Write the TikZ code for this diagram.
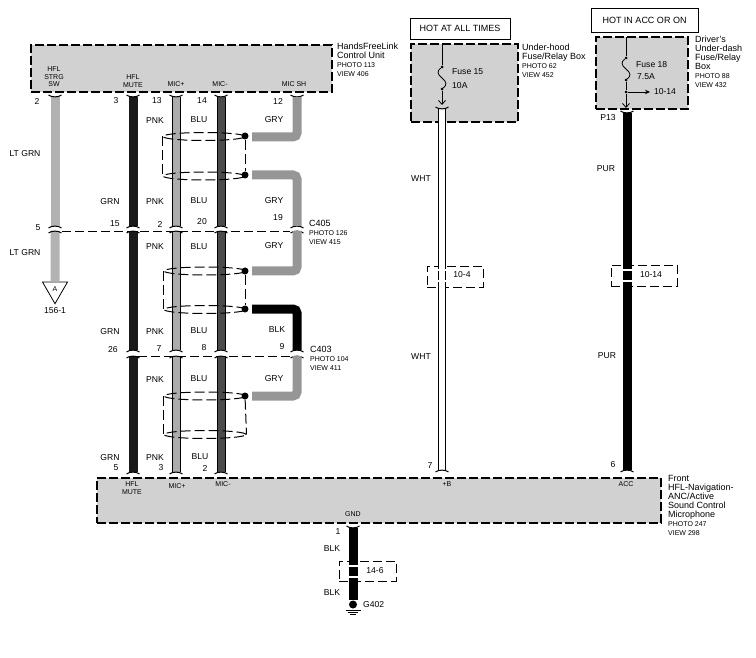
\documentclass[tikz,border=0pt]{standalone}
\usepackage{fontspec}
\setmainfont{Liberation Sans}
\usetikzlibrary{shapes.geometric, arrows.meta, positioning}
\definecolor{panelgray}{RGB}{209,209,209}
\definecolor{wiregrn}{RGB}{178,178,178}
\definecolor{wirepink}{RGB}{172,172,172}
\definecolor{wireblue}{RGB}{75,75,75}
\definecolor{wiregry}{RGB}{150,150,150}
\newcommand{\pv}{\fontsize{7}{7.6}\selectfont}
\begin{document}
\begin{tikzpicture}[
        x=1pt, y=-1pt,
        unitbox/.style={rectangle, draw=black, fill=panelgray, line width=1.1pt, dash pattern=on 9pt off 3pt, inner sep=0pt},
        hotbox/.style={rectangle, draw=black, fill=white, line width=0.9pt, inner sep=0pt, font=\fontsize{9}{9}\selectfont},
        pagebox/.style={rectangle, draw=black, line width=0.7pt, dash pattern=on 9pt off 4pt, inner sep=0pt},
        unitname/.style={anchor=north west, align=left, inner sep=0pt, font=\fontsize{9}{9}\selectfont},
        pinname/.style={align=center, inner sep=0pt, font=\fontsize{7}{7.5}\selectfont},
        wirelabel/.style={inner sep=0pt, font=\fontsize{8.6}{9}\selectfont},
        wireplain/.style={line width=9pt},
        wiredouble/.style={draw=black, line width=1pt},
        wiremute/.style={draw=black!90, line width=9pt},
        wirepnk/.style={wiredouble, double=wirepink, double distance=7pt},
        wireblu/.style={wiredouble, double=wireblue, double distance=7pt},
        wirewht/.style={wiredouble, double=white, double distance=6.5pt},
        wiregray/.style={wireplain, draw=wiregry, rounded corners=4pt},
        wireblack/.style={wireplain, draw=black, rounded corners=4pt},
        shieldring/.style={ellipse, draw=black, line width=1pt, dash pattern=on 10pt off 4pt, inner sep=0pt, minimum width=82pt, minimum height=8pt},
        shieldside/.style={draw=black, line width=1pt, dash pattern=on 10pt off 4pt},
        harness/.style={draw=black, line width=0.7pt, dash pattern=on 9pt off 4pt},
        wiredot/.style={circle, fill=black, inner sep=0pt, minimum size=7pt},
        smalldot/.style={circle, fill=black, inner sep=0pt, minimum size=3pt},
        thinline/.style={draw=black, line width=0.8pt},
        stripe/.style={draw=white, line width=2pt},
        pics/capup/.style={code={\draw[thinline, line width=1pt] (-6.5,-2) .. controls (-4,0.5) and (4,0.5) .. (6.5,-2);}},
        pics/capdown/.style={code={\draw[thinline, line width=1pt] (-6.5,2) .. controls (-4,-0.5) and (4,-0.5) .. (6.5,2);}}
    ]
    \useasboundingbox (0,0) rectangle (756,658);

    \node[unitbox, minimum width=301pt, minimum height=47pt] (hflunit) at (181.5,68.5) {};
    \node[unitbox, minimum width=107pt, minimum height=78pt] (underhood) at (464.5,83) {};
    \node[unitbox, minimum width=92pt, minimum height=72pt] (underdash) at (642,73) {};
    \node[unitbox, minimum width=564pt, minimum height=45pt] (frontunit) at (379,500.5) {};
    \node[hotbox, minimum width=100pt, minimum height=21pt] (hotall) at (460,28.5) {HOT AT ALL TIMES};
    \node[hotbox, minimum width=107pt, minimum height=24pt] (hotacc) at (644.5,20) {HOT IN ACC OR ON};

    \node[unitname] (hflname) at (337,43) {HandsFreeLink\\Control Unit\\\pv PHOTO 113\\\pv VIEW 406};
    \node[unitname] (hoodname) at (522,44) {Under-hood\\Fuse/Relay Box\\\pv PHOTO 62\\\pv VIEW 452};
    \node[unitname] (dashname) at (695,36) {Driver's\\Under-dash\\Fuse/Relay\\Box\\\pv PHOTO 88\\\pv VIEW 432};
    \node[unitname] (frontname) at (668,475) {Front\\HFL-Navigation-\\ANC/Active\\Sound Control\\Microphone\\\pv PHOTO 247\\\pv VIEW 298};

    \foreach \name/\cx in {strg/55, mute/133, micp/176, micm/221, shld/297} {
        \coordinate (\name-a) at (\cx,97);
        \coordinate (\name-b) at (\cx,226);
        \coordinate (\name-c) at (\cx,231);
        \coordinate (\name-d) at (\cx,350);
        \coordinate (\name-e) at (\cx,356);
        \coordinate (\name-f) at (\cx,472);
    }
    \coordinate (c405l) at (62,231);
    \coordinate (c405r) at (290,231);
    \coordinate (c403l) at (138,356.5);
    \coordinate (c403r) at (290,356.5);
    \draw[harness] (c405l) -- (c405r);
    \draw[harness] (c403l) -- (c403r);

    \node[draw=black, line width=0.8pt, regular polygon, regular polygon sides=3, shape border rotate=180, minimum size=29pt, inner sep=0pt, font=\fontsize{7}{7}\selectfont] (offpage) at (55,289.2) {A};
    \node[wirelabel, below=3pt of offpage] (offpagepage) {156-1};
    \draw[wireplain, draw=wiregrn] (strg-a) -- (strg-b);
    \draw[wireplain, draw=wiregrn] (strg-c) -- (offpage.north);

    \foreach \name/\sty in {mute/wiremute, micp/wirepnk, micm/wireblu} {
        \draw[\sty] (\name-a) -- (\name-b);
        \draw[\sty] (\name-c) -- (\name-d);
        \draw[\sty] (\name-e) -- (\name-f);
    }
    \foreach \name in {strg, mute, micp, micm, shld} {
        \pic at (\name-a) {capup};
        \pic at (\name-b) {capdown};
        \pic at (\name-c) {capdown};
    }
    \foreach \name in {mute, micp, micm, shld} {
        \pic at (\name-d) {capdown};
        \pic at (\name-e) {capdown};
    }
    \foreach \name in {mute, micp, micm} {
        \pic at (\name-f) {capdown};
    }

    \coordinate (sh1) at (252,137);
    \coordinate (sh2) at (252,175);
    \coordinate (sh3) at (252,271);
    \coordinate (sh4) at (252,309);
    \coordinate (sh5) at (252,396);
    \draw[wiregray] (shld-a) |- (sh1);
    \draw[wiregray] (sh2) -| (shld-b);
    \draw[wiregray] (shld-c) |- (sh3);
    \draw[wireblack] (sh4) -| (shld-d);
    \draw[wiregray] (shld-e) |- (sh5);

    \node[wiredot] (dot1) at (245,136) {};
    \node[wiredot] (dot2) at (245,175) {};
    \node[wiredot] (dot3) at (245,271) {};
    \node[wiredot] (dot4) at (245,309) {};
    \node[wiredot] (dot5) at (245,396) {};
    \node[shieldring] (ring1) at (204,136.5) {};
    \node[shieldring] (ring2) at (204,176) {};
    \node[shieldring] (ring3) at (205,271) {};
    \node[shieldring] (ring4) at (205,309.5) {};
    \node[shieldring] (ring5) at (205,396) {};
    \node[shieldring] (ring6) at (205,434.5) {};
    \draw[shieldside] (dot1) -- (dot2);
    \draw[shieldside] (dot3) -- (dot4);
    \draw[shieldside] (dot5) -- (ring6.east);
    \draw[shieldside] (ring1.west) -- (ring2.west);
    \draw[shieldside] (ring3.west) -- (ring4.west);
    \draw[shieldside] (ring5.west) -- (ring6.west);

    \node[pagebox, minimum width=56pt, minimum height=21pt] (page104) at (455,276.5) {};
    \node[pagebox, minimum width=66pt, minimum height=21pt] (page1014) at (644,275.5) {};
    \node[pagebox, minimum width=57pt, minimum height=20pt] (page146) at (367.5,571) {};

    \coordinate (wht-a) at (442,109);
    \coordinate (wht-b) at (442,470);
    \coordinate (pur-a) at (627,113);
    \coordinate (pur-b) at (627,470);
    \coordinate (gnd-a) at (353,528);
    \node[circle, fill=black, inner sep=0pt, minimum size=8pt] (g402) at (353,604.5) {};
    \draw[wirewht] (wht-a) -- (wht-b);
    \draw[wireblack] (pur-a) -- (pur-b);
    \draw[wireblack] (gnd-a) -- (g402);
    \pic at (wht-a) {capup};
    \pic at (wht-b) {capdown};
    \pic at (pur-a) {capup};
    \pic at (pur-b) {capdown};
    \pic at (gnd-a) {capup};
    \draw[stripe] (437,270.5) -- (447,270.5) (437,281) -- (447,281);
    \draw[stripe] (622,270.5) -- (632,270.5) (622,281) -- (632,281);
    \draw[stripe] (348,565.5) -- (358,565.5) (348,576.5) -- (358,576.5);

    \draw[thinline] (345.5,610) -- (360.5,610) (348,612) -- (358,612) (350,614) -- (356,614);

    \coordinate (f15top) at (442,44);
    \coordinate (f15mid) at (442,78);
    \coordinate (f15end) at (442,105);
    \node[smalldot] (f15a) at (442,67) {};
    \node[smalldot] (f15b) at (442,89) {};
    \draw[thinline] (f15top) -- (f15a);
    \draw[thinline] (f15a) .. controls +(-5,4) and +(-5,-4) .. (f15mid) .. controls +(5,4) and +(5,-4) .. (f15b);
    \draw[thinline, -{Straight Barb[length=4pt, width=7pt]}] (f15b) -- (f15end);

    \coordinate (f18top) at (626,37);
    \coordinate (f18mid) at (626,69);
    \coordinate (f18end) at (626,108);
    \coordinate (f18tap) at (650,92);
    \node[smalldot] (f18a) at (626,58) {};
    \node[smalldot] (f18b) at (626,80) {};
    \node[smalldot] (f18c) at (626,92) {};
    \draw[thinline] (f18top) -- (f18a);
    \draw[thinline] (f18a) .. controls +(-5,4) and +(-5,-4) .. (f18mid) .. controls +(5,4) and +(5,-4) .. (f18b);
    \draw[thinline] (f18b) -- (f18c);
    \draw[thinline, -{Straight Barb[length=4pt, width=7pt]}] (f18c) -- (f18end);
    \draw[thinline, -{Stealth[length=5pt, width=4.5pt]}] (f18c) -- (f18tap);

    \node[wirelabel, anchor=west] (fuse15) at (452,72) {Fuse 15};
    \node[wirelabel, anchor=west] (amp15) at (452,86) {10A};
    \node[wirelabel, anchor=west] (fuse18) at (636,65) {Fuse 18};
    \node[wirelabel, anchor=west] (amp18) at (637,77) {7.5A};
    \node[wirelabel] (tap1014) at (665,92) {10-14};
    \node[wirelabel] (txt104) at (462,275) {10-4};
    \node[wirelabel] (txt1014) at (651,275) {10-14};
    \node[wirelabel] (txt146) at (375,571) {14-6};
    \node[wirelabel, anchor=west] (g402txt) at (363,605) {G402};

    \node[pinname] (pstrg) at (54,77) {HFL\\STRG\\SW};
    \node[pinname] (pmute) at (133,81) {HFL\\MUTE};
    \node[pinname] (pmicp) at (176,84) {MIC+};
    \node[pinname] (pmicm) at (220,84) {MIC-};
    \node[pinname] (pmicsh) at (294,84) {MIC SH};
    \node[pinname] (pfmute) at (132,488) {HFL\\MUTE};
    \node[pinname] (pfmicp) at (177,486) {MIC+};
    \node[pinname] (pfmicm) at (223,484) {MIC-};
    \node[pinname] (pfb) at (447,484) {+B};
    \node[pinname] (pfacc) at (626,484) {ACC};
    \node[pinname] (pfgnd) at (353,514) {GND};

    \foreach \lx/\ly/\ltxt in {37/101/2, 116/101/3, 157/101/13, 202/101/14, 278/101/12,
        38/228/5, 115/224/15, 160/224/2, 202/222/20, 278/218/19,
        113/350/26, 159/349/7, 204/348/8, 282/347/9,
        116/468/5, 161/468/3, 205/468/2, 338/532/1, 430/466/7, 613/465/6, 608/118/P13} {
        \node[wirelabel] at (\lx,\ly) {\ltxt};
    }
    \foreach \lx/\ly/\ltxt in {25/154/LT GRN, 25/253/LT GRN,
        155/121/PNK, 199/120/BLU, 274/120/GRY,
        110/202/GRN, 155/202/PNK, 199/201/BLU, 274/201/GRY,
        155/247/PNK, 199/247/BLU, 274/246/GRY,
        110/332/GRN, 155/332/PNK, 199/331/BLU, 277/330/BLK,
        155/380/PNK, 199/379/BLU, 274/379/GRY,
        110/458/GRN, 155/458/PNK, 200/457/BLU,
        421/179/WHT, 421/357/WHT, 606/169/PUR, 607/356/PUR,
        332/549/BLK, 332/593/BLK} {
        \node[wirelabel] at (\lx,\ly) {\ltxt};
    }

    \node[unitname] (c405) at (309,220) {C405\\\pv PHOTO 126\\\pv VIEW 415};
    \node[unitname] (c403) at (310,346) {C403\\\pv PHOTO 104\\\pv VIEW 411};
\end{tikzpicture}
\end{document}
